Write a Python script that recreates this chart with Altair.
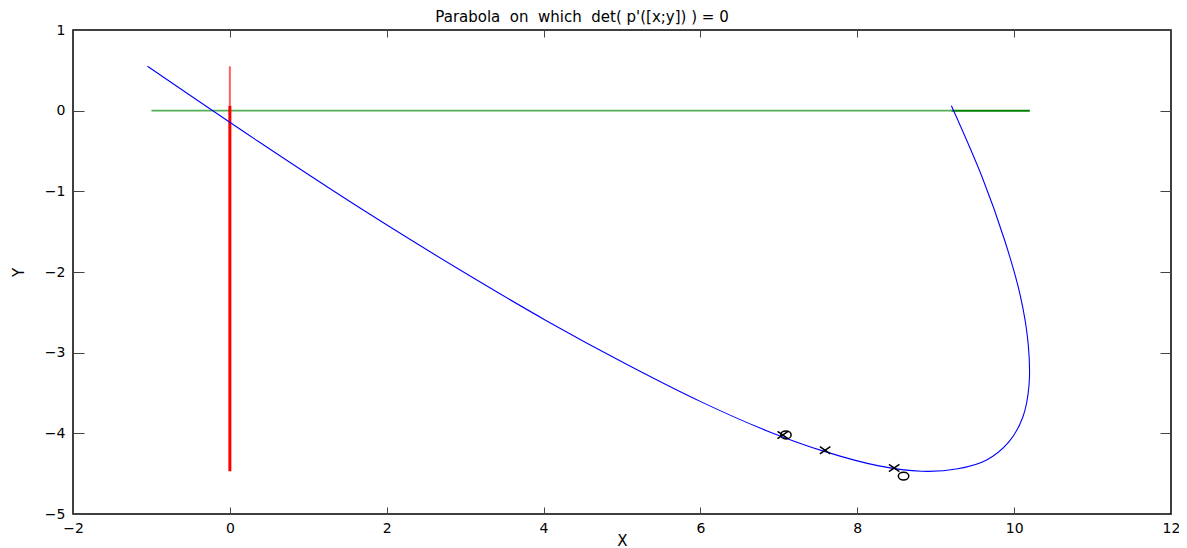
import altair as alt
import pandas as pd

# ---- data ----
curve_x = [-1.05, 0.36, 1.68, 2.91, 4.03, 5.07, 6.01, 6.85, 7.60, 8.26, 8.82, 9.28, 9.65,
           9.93, 10.11, 10.19, 10.18, 10.08, 9.88, 9.59, 9.20]
curve_y = [0.55, -0.38, -1.22, -1.96, -2.60, -3.15, -3.61, -3.97, -4.23, -4.40, -4.47, -4.44,
           -4.33, -4.11, -3.80, -3.40, -2.90, -2.30, -1.61, -0.82, 0.06]

xmark_x = [7.05, 7.59, 8.47]
xmark_y = [-4.02, -4.21, -4.43]
omark_x = [7.09, 8.59]
omark_y = [-4.02, -4.53]

red_x = [0.0, 0.0]
red_y_top = [0.55, 0.06]
red_y_bot = [0.06, -4.47]

green_y = [0.0, 0.0]
green_x_start = [-1.0, 9.2]
green_x_end = [9.2, 10.2]

x_ticks = [-2, 0, 2, 4, 6, 8, 10, 12]
y_ticks = [-5, -4, -3, -2, -1, 0, 1]

# ---- tables ----
curve = pd.DataFrame({"x": curve_x, "y": curve_y, "i": list(range(len(curve_x)))})
xm = pd.DataFrame({"x": xmark_x, "y": xmark_y})
om = pd.DataFrame({"x": omark_x, "y": omark_y})
red_light = pd.DataFrame({"x": [red_x[0]], "y": [red_y_top[0]], "y2": [red_y_top[1]]})
red_dark = pd.DataFrame({"x": [red_x[1]], "y": [red_y_bot[0]], "y2": [red_y_bot[1]]})
green_light = pd.DataFrame({"y": [green_y[0]], "x": [green_x_start[0]], "x2": [green_x_end[0]]})
green_dark = pd.DataFrame({"y": [green_y[1]], "x": [green_x_start[1]], "x2": [green_x_end[1]]})

FONT = "DejaVu Sans"
xs = alt.Scale(domain=[-2, 12], nice=False, zero=False)
ys = alt.Scale(domain=[-5, 1], nice=False, zero=False)

common = dict(grid=False, domain=False, tickColor="#444444", tickWidth=1,
              labelFont=FONT, labelFontSize=14, labelColor="black",
              titleFont=FONT, titleFontSize=15, titleFontWeight="normal", titleColor="black",
              labelFlush=False, labelOverlap=False)

bottom_axis = alt.Axis(orient="bottom", values=x_ticks, offset=-7, tickSize=7, labelPadding=7,
                       title="X", titlePadding=-2, **common)
left_axis = alt.Axis(orient="left", values=y_ticks, offset=-11, tickSize=11, labelPadding=8,
                     title="Y", titlePadding=18, **common)
top_axis = alt.Axis(orient="top", values=x_ticks, offset=-7, tickSize=7, labels=False,
                    title=None, grid=False, domain=False, tickColor="#444444")
right_axis = alt.Axis(orient="right", values=y_ticks, offset=-11, tickSize=11, labels=False,
                      title=None, grid=False, domain=False, tickColor="#444444")

curve_layer = alt.Chart(curve).mark_line(color="#0000ff", strokeWidth=1.1,
                                          interpolate="catmull-rom").encode(
    x=alt.X("x:Q", scale=xs, axis=bottom_axis),
    y=alt.Y("y:Q", scale=ys, axis=left_axis),
    order="i:Q",
)

green_light_layer = alt.Chart(green_light).mark_rule(color="#55b055", strokeWidth=1.6).encode(
    x=alt.X("x:Q", scale=xs, axis=top_axis),
    x2="x2:Q",
    y=alt.Y("y:Q", scale=ys, axis=right_axis),
)
green_dark_layer = alt.Chart(green_dark).mark_rule(color="#008000", strokeWidth=2).encode(
    x=alt.X("x:Q", scale=xs, axis=None), x2="x2:Q",
    y=alt.Y("y:Q", scale=ys, axis=None),
)
red_light_layer = alt.Chart(red_light).mark_rule(color="#ff6060", strokeWidth=2).encode(
    x=alt.X("x:Q", scale=xs, axis=None),
    y=alt.Y("y:Q", scale=ys, axis=None), y2="y2:Q",
)
red_dark_layer = alt.Chart(red_dark).mark_rule(color="#ff0000", strokeWidth=3).encode(
    x=alt.X("x:Q", scale=xs, axis=None),
    y=alt.Y("y:Q", scale=ys, axis=None), y2="y2:Q",
)

x_shape = "M-1,-0.7L1,0.7M-1,0.7L1,-0.7"
o_shape = "M-1,0A1,0.75 0 1,0 1,0A1,0.75 0 1,0 -1,0Z"
xm_layer = alt.Chart(xm).mark_point(shape=x_shape, size=110, filled=False, color="black",
                                    strokeWidth=1.5, opacity=1).encode(
    x=alt.X("x:Q", scale=xs, axis=None), y=alt.Y("y:Q", scale=ys, axis=None))
om_layer = alt.Chart(om).mark_point(shape=o_shape, size=110, filled=False, color="black",
                                    strokeWidth=1.5, opacity=1).encode(
    x=alt.X("x:Q", scale=xs, axis=None), y=alt.Y("y:Q", scale=ys, axis=None))

chart = alt.layer(
    green_light_layer, green_dark_layer, red_light_layer, red_dark_layer,
    curve_layer, xm_layer, om_layer,
).resolve_axis(x="independent", y="independent").properties(
    width=1098, height=484,
    title=alt.TitleParams(text="Parabola\u00a0 on\u00a0 which\u00a0 det( p'([x;y]) ) = 0",
                          font=FONT, fontSize=15, fontWeight="normal", color="black",
                          anchor="middle", dx=-40, dy=10, offset=8),
    autosize=alt.AutoSizeParams(type="none"),
    padding={"left": 65, "top": 22, "right": 8, "bottom": 34},
).configure_view(stroke="black", strokeWidth=1.5)

chart.save("out.html", embed_options={"renderer": "svg", "actions": False})
